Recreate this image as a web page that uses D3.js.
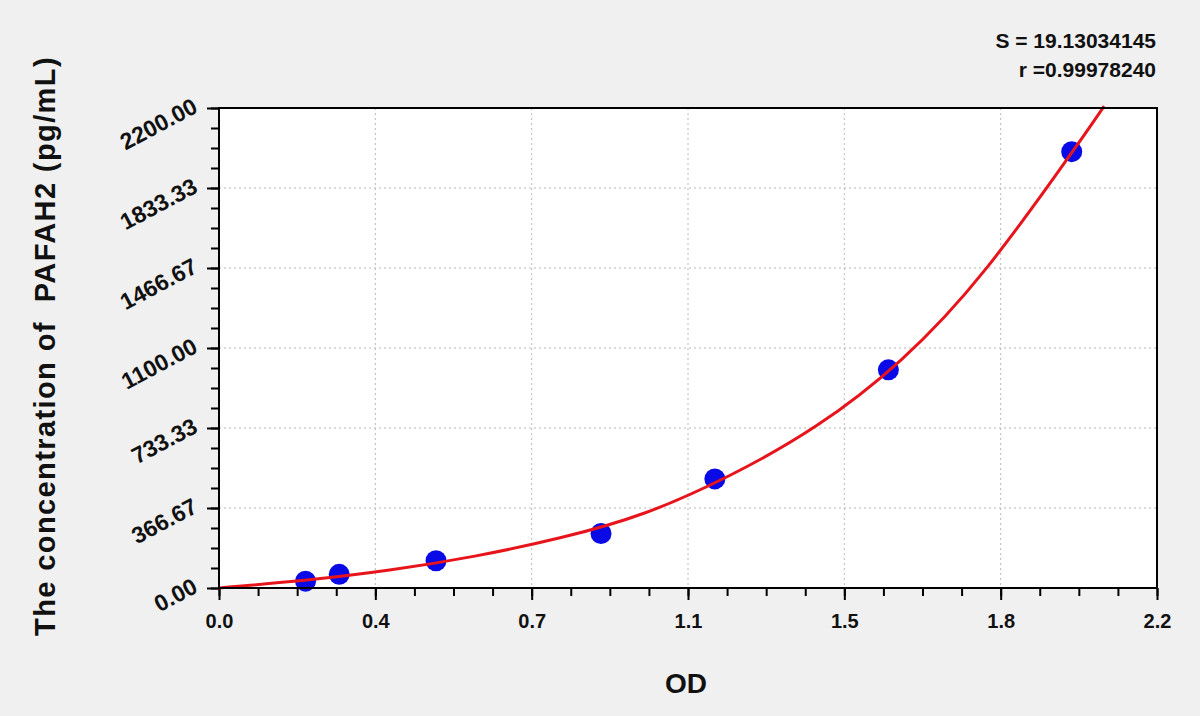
<!DOCTYPE html>
<html>
<head>
<meta charset="utf-8">
<script src="https://cdn.jsdelivr.net/npm/d3@7"></script>
<style>
  body { margin: 0; background: #f0f0f0; }
  svg { display: block; font-family: "Liberation Sans", Arial, sans-serif; }
</style>
</head>
<body>
<div id="chart"></div>
<script>
// standards: OD vs concentration (pg/mL)
const standardOD = [0.203, 0.282, 0.509, 0.896, 1.163, 1.570, 2.000];
const standardConc = [31.25, 62.5, 125, 250, 500, 1000, 2000];

// fitted curve
const curveOD = [0, 0.2, 0.4, 0.6, 0.8, 1.0, 1.2, 1.4, 1.6, 1.8, 2.0, 2.076];
const curveConc = [0, 35, 82, 146, 230, 345, 518, 742, 1046, 1466, 1995, 2209];

const xTickValues = [0, 2.2 / 6, 4.4 / 6, 1.1, 8.8 / 6, 11 / 6, 2.2];
const yTickValues = [0, 2200 / 6, 4400 / 6, 1100, 8800 / 6, 11000 / 6, 2200];
const fitStats = ["S = 19.13034145", "r =0.99978240"];

const width = 1200, height = 716;
const margin = { top: 108, right: 43, bottom: 128, left: 219 };
const plotW = width - margin.left - margin.right,
      plotH = height - margin.top - margin.bottom;

const svg = d3.select("#chart").append("svg")
    .attr("width", width)
    .attr("height", height);

svg.append("rect").attr("width", width).attr("height", height).attr("fill", "#f0f0f0");

const g = svg.append("g")
    .attr("transform", "translate(" + margin.left + "," + margin.top + ")");

let x = d3.scaleLinear().domain([0, 2.2]).range([0, plotW]);
let y = d3.scaleLinear().domain([0, 2200]).range([plotH, 0]);

g.append("rect")
    .attr("width", plotW)
    .attr("height", plotH)
    .attr("fill", "#fff");

// dotted grid
g.append("g").selectAll("line")
    .data(xTickValues.slice(1, -1))
    .enter().append("line")
    .attr("x1", d => x(d)).attr("x2", d => x(d))
    .attr("y1", 0).attr("y2", plotH)
    .attr("stroke", "#b8b8b8").attr("stroke-dasharray", "2,3");
g.append("g").selectAll("line")
    .data(yTickValues.slice(1, -1))
    .enter().append("line")
    .attr("y1", d => y(d)).attr("y2", d => y(d))
    .attr("x1", 0).attr("x2", plotW)
    .attr("stroke", "#b8b8b8").attr("stroke-dasharray", "2,3");

// minor ticks
const xMinor = d3.range(25).map(i => i * 2.2 / 24);
const yMinor = d3.range(25).map(i => i * 2200 / 24);

g.append("g")
    .attr("transform", "translate(0," + plotH + ")")
    .call(d3.axisBottom(x).tickValues(xMinor).tickSize(8).tickFormat(""))
    .call(a => a.select(".domain").remove());
g.append("g")
    .call(d3.axisLeft(y).tickValues(yMinor).tickSize(8).tickFormat(""))
    .call(a => a.select(".domain").remove());

// major ticks + labels
let xAxis = g.append("g")
    .attr("transform", "translate(0," + plotH + ")")
    .call(d3.axisBottom(x).tickValues(xTickValues).tickSize(12).tickPadding(14).tickFormat(d3.format(".1f")));
xAxis.select(".domain").remove();
xAxis.selectAll("text")
    .attr("font-size", 20).attr("font-weight", "bold").attr("fill", "#111")
    .attr("font-family", "Liberation Sans, Arial, sans-serif");

let yAxis = g.append("g")
    .call(d3.axisLeft(y).tickValues(yTickValues).tickSize(12).tickFormat(d3.format(".2f")));
yAxis.select(".domain").remove();
yAxis.selectAll("text")
    .attr("x", null).attr("dy", null)
    .attr("text-anchor", "end")
    .attr("transform", "translate(-20,3) rotate(-28)")
    .attr("font-size", 23).attr("font-weight", "bold").attr("fill", "#111")
    .attr("font-family", "Liberation Sans, Arial, sans-serif");

g.selectAll(".tick line").attr("stroke", "#000").attr("stroke-width", 2);

// fitted curve
const curveData = curveOD.map((d, i) => ({ od: d, conc: curveConc[i] }));
let line = d3.line()
    .x(d => x(d.od))
    .y(d => y(d.conc))
    .curve(d3.curveNatural);

// standards
g.append("g").selectAll("circle")
    .data(standardOD.map((d, i) => ({ od: d, conc: standardConc[i] })))
    .enter().append("circle")
    .attr("cx", d => x(d.od))
    .attr("cy", d => y(d.conc))
    .attr("r", 10.5)
    .attr("fill", "#0a0ae6");

// curve drawn over the dots, as in the original
g.append("path")
    .datum(curveData)
    .attr("d", line)
    .attr("fill", "none")
    .attr("stroke", "#e8141b")
    .attr("stroke-width", 3);

// frame
g.append("rect")
    .attr("width", plotW)
    .attr("height", plotH)
    .attr("fill", "none")
    .attr("stroke", "#000")
    .attr("stroke-width", 2);

// axis titles
svg.append("text")
    .attr("x", margin.left + x(1.1) - 2)
    .attr("y", 693)
    .attr("text-anchor", "middle")
    .attr("font-size", 28).attr("font-weight", "bold").attr("fill", "#111")
    .text("OD");

svg.append("text")
    .attr("transform", "translate(55,346) rotate(-90)")
    .attr("text-anchor", "middle")
    .attr("font-size", 29).attr("font-weight", "bold").attr("fill", "#111")
    .attr("letter-spacing", 1.4)
    .style("white-space", "pre")
    .text("The concentration of  PAFAH2 (pg/mL)");

// fit statistics
svg.selectAll(".stat")
    .data(fitStats)
    .enter().append("text")
    .attr("class", "stat")
    .attr("x", 1156)
    .attr("y", (d, i) => 48 + i * 29)
    .attr("text-anchor", "end")
    .attr("font-size", 21).attr("font-weight", "bold").attr("fill", "#111")
    .text(d => d);
</script>
</body>
</html>
